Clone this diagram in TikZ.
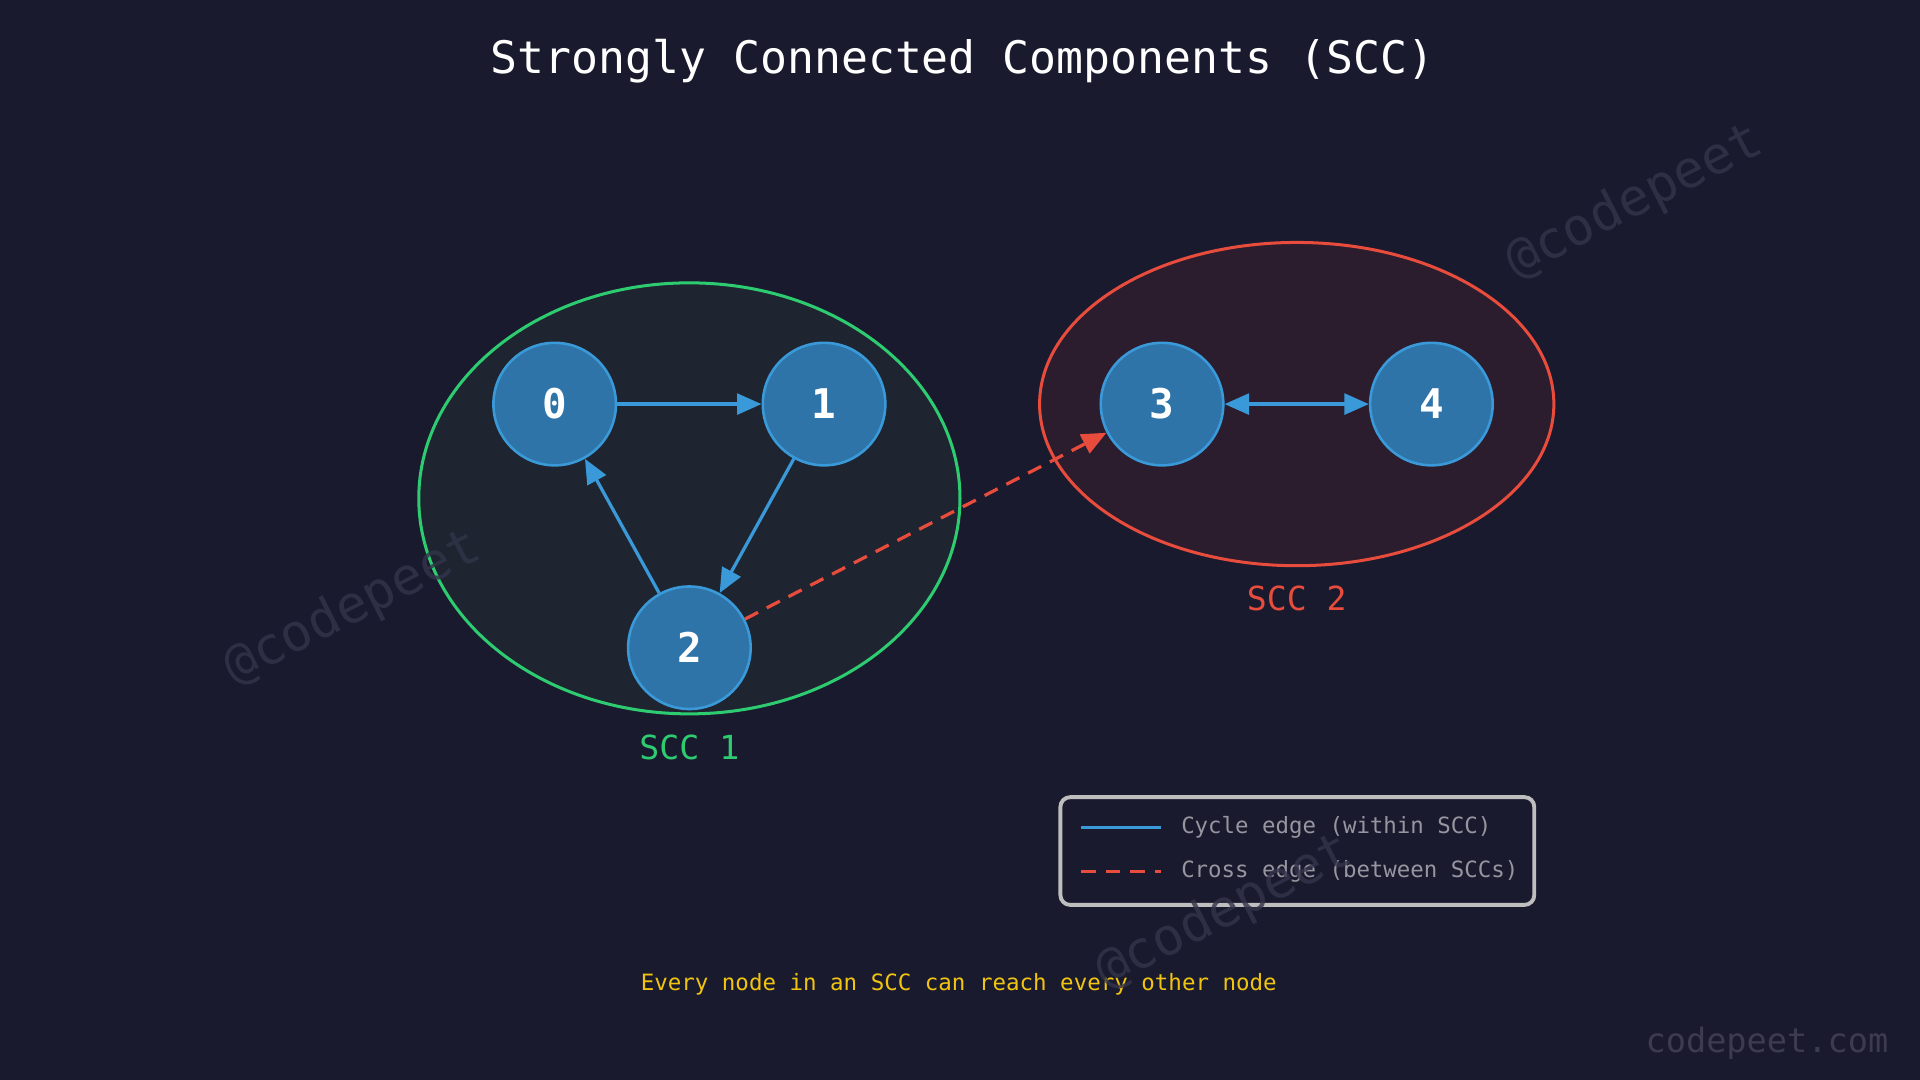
\documentclass[tikz,border=0pt]{standalone}
\usepackage{fontspec}
\setmonofont{DejaVu Sans Mono}
\usetikzlibrary{arrows.meta}
\definecolor{bg}{HTML}{1A1A2E}
\definecolor{nfill}{HTML}{2E74A8}
\definecolor{nedge}{HTML}{3A9AD9}
\definecolor{gr}{HTML}{2ECC71}
\definecolor{rd}{HTML}{E74C3C}
\definecolor{yl}{HTML}{F1C40F}
\definecolor{wm}{HTML}{33334A}
\definecolor{gfill}{HTML}{1E2530}
\definecolor{rfill}{HTML}{2B1D2D}
\definecolor{lgd}{HTML}{BEBEBE}
\definecolor{ltxt}{HTML}{9696A0}
\definecolor{site}{HTML}{3C3C4E}
\begin{document}
\begin{tikzpicture}[x=0.01cm,y=-0.01cm,font=\ttfamily,
  vnode/.style={circle,minimum size=1cm,fill=nfill,draw=nedge,line width=0.6pt,text=white,font=\ttfamily\bfseries\fontsize{9.5}{11}\selectfont,inner sep=0pt},
  cyc/.style={draw=nedge,line width=0.75pt,-{Triangle[length=0.2cm,width=0.17cm]}},
  wmark/.style={text=wm,text opacity=0.8,font=\ttfamily\fontsize{12}{14}\selectfont,rotate=27}]
\fill[bg] (0,0) rectangle (1568,882);
\useasboundingbox (0,0) rectangle (1568,882);
\node[text=white,font=\ttfamily\fontsize{10.4}{12}\selectfont] (title) at (786,50) {Strongly Connected Components (SCC)};
\fill[gfill] (563,407) ellipse [x radius=221,y radius=176];
\draw[gr,line width=0.7pt] (563,407) ellipse [x radius=221,y radius=176];
\fill[rfill] (1059,330) ellipse [x radius=210,y radius=132];
\draw[rd,line width=0.7pt] (1059,330) ellipse [x radius=210,y radius=132];
\node[text=gr,font=\ttfamily\fontsize{7.7}{9}\selectfont] (s1) at (563,610) {SCC 1};
\node[text=rd,font=\ttfamily\fontsize{7.7}{9}\selectfont] (s2) at (1059,489) {SCC 2};
\node[vnode] (n0) at (453,330) {0};
\node[vnode] (n1) at (673,330) {1};
\node[vnode] (n2) at (563,529) {2};
\node[vnode] (n3) at (949,330) {3};
\node[vnode] (n4) at (1169,330) {4};
\draw[cyc] (n0) -- (n1);
\draw[cyc] (n1) -- (n2);
\draw[cyc] (n2) -- (n0);
\draw[cyc,{Triangle[length=0.2cm,width=0.17cm]}-{Triangle[length=0.2cm,width=0.17cm]}] (n3) -- (n4);
\draw[rd,line width=0.75pt,dash pattern=on 0.12cm off 0.08cm,-{Triangle[length=0.2cm,width=0.17cm]}] (n2) -- (n3);
\draw[lgd,line width=0.9pt,rounded corners=0.08cm] (866,651) rectangle (1253,739);
\coordinate (l1a) at (883,676); \coordinate (l1b) at (948,676);
\coordinate (l2a) at (883,712); \coordinate (l2b) at (948,712);
\draw[nedge,line width=0.75pt] (l1a) -- (l1b);
\draw[rd,line width=0.75pt,dash pattern=on 0.12cm off 0.08cm] (l2a) -- (l2b);
\node[anchor=west,inner sep=0pt,text=ltxt,font=\ttfamily\fontsize{5.2}{6}\selectfont] (t1) at (964,676) {Cycle edge (within SCC)};
\node[anchor=west,inner sep=0pt,text=ltxt,font=\ttfamily\fontsize{5.2}{6}\selectfont] (t2) at (964,712) {Cross edge (between SCCs)};
\node[text=yl,font=\ttfamily\fontsize{5.22}{6}\selectfont] (foot) at (783,804) {Every node in an SCC can reach every other node};
\node[text=site,font=\ttfamily\fontsize{7.8}{9}\selectfont] (sitel) at (1443,852) {codepeet.com};
\node[wmark] (w1) at (288,497) {@codepeet};
\node[wmark] (w2) at (1335,165) {@codepeet};
\node[wmark] (w3) at (1000,745) {@codepeet};
\end{tikzpicture}
\end{document}
